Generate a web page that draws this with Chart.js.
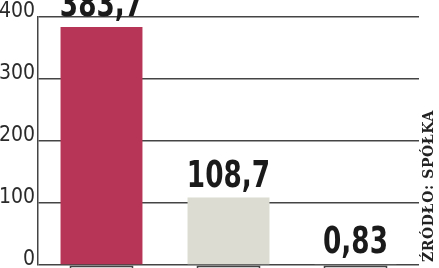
<!DOCTYPE html>
<html>
<head>
<meta charset="utf-8">
<script src="https://cdn.jsdelivr.net/npm/chart.js@4"></script>
<style>
html,body{margin:0;padding:0;background:#fff;}
#wrap{width:439px;height:268px;position:relative;}
</style>
</head>
<body>
<div id="wrap"><canvas id="c" width="439" height="268"></canvas></div>
<script>
const categories = ['a', 'b', 'c'];
const values = [383.7, 108.7, 0.83];
const barColors = ['#b73556', '#dcdcd2', '#8a8a8a'];
const yTicks = [0, 100, 200, 300, 400];
const sourceText = 'ŹRÓDŁO: SPÓŁKA';

const valueLabelPlugin = {
  id: 'valueLabels',
  afterDatasetsDraw(chart) {
    const ctx = chart.ctx;
    const meta = chart.getDatasetMeta(0);
    meta.data.forEach((bar, i) => {
      const txt = String(values[i]).replace('.', ',');
      ctx.save();
      ctx.fillStyle = '#1a1a1a';
      ctx.font = 'bold 38px "DejaVu Sans Condensed", sans-serif';
      ctx.textAlign = 'center';
      ctx.textBaseline = 'alphabetic';
      ctx.translate(bar.x, bar.y - 11);
      ctx.scale(0.77, 1);
      ctx.fillText(txt, 0, 0);
      ctx.restore();
    });
  }
};

const extrasPlugin = {
  id: 'extras',
  afterDraw(chart) {
    const ctx = chart.ctx;
    const area = chart.chartArea;
    const xs = chart.scales.x;
    ctx.save();
    ctx.strokeStyle = '#444';
    ctx.lineWidth = 1.5;
    categories.forEach((c, i) => {
      const cx = xs.getPixelForValue(i);
      ctx.strokeRect(cx - 31, area.bottom + 1.5, 62, 20);
    });
    ctx.fillStyle = '#222';
    ctx.font = 'bold 14px "DejaVu Serif", serif';
    try { ctx.letterSpacing = '0.6px'; } catch (e) {}
    ctx.translate(433, 262);
    ctx.rotate(-Math.PI / 2);
    ctx.textAlign = 'left';
    ctx.textBaseline = 'alphabetic';
    ctx.fillText(sourceText, 0, 0);
    ctx.restore();
  }
};

new Chart(document.getElementById('c'), {
  type: 'bar',
  data: {
    labels: categories,
    datasets: [{
      data: values,
      backgroundColor: barColors,
      borderWidth: 0,
      categoryPercentage: 1,
      barPercentage: 0.645
    }]
  },
  options: {
    responsive: false,
    animation: false,
    devicePixelRatio: 1,
    layout: { padding: { top: 17, bottom: 3, left: 0, right: 20 } },
    plugins: { legend: { display: false }, tooltip: { enabled: false } },
    scales: {
      x: {
        display: false
      },
      y: {
        min: 0,
        max: 400,
        afterBuildTicks(scale) {
          scale.ticks = yTicks.map(v => ({ value: v }));
        },
        afterFit(scale) {
          scale.width = 38;
          scale.paddingTop = 0;
          scale.paddingBottom = 0;
        },
        grid: {
          color: '#444',
          lineWidth: 1.5,
          drawTicks: false
        },
        border: { display: true, color: '#444', width: 1.5 },
        ticks: {
          padding: 3,
          labelOffset: -5,
          color: '#2a2a2a',
          font: { family: '"DejaVu Sans Condensed", sans-serif', size: 21 }
        }
      }
    }
  },
  plugins: [valueLabelPlugin, extrasPlugin]
});
</script>
</body>
</html>
